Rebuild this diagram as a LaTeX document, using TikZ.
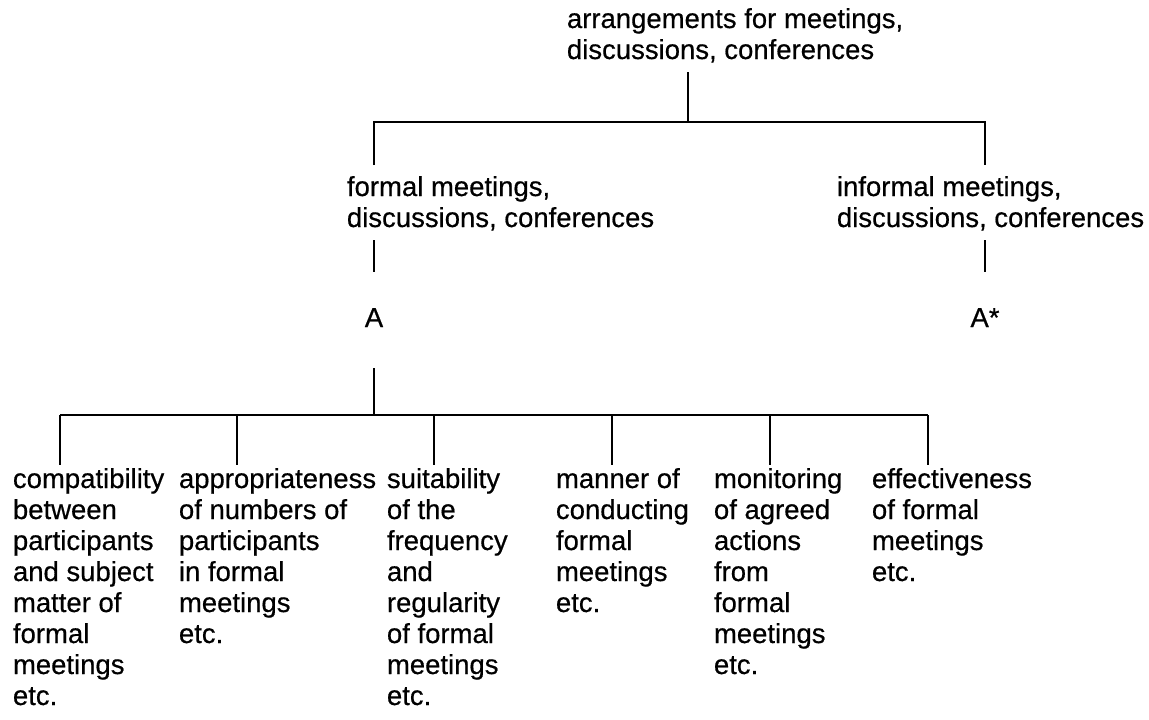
\documentclass[tikz,border=0pt]{standalone}
\usepackage{fontspec}
\setmainfont{Liberation Sans}[FakeBold=0.5]
\begin{document}
\begin{tikzpicture}[x=1pt, y=-1pt, line width=1.9pt,
  lbl/.style={inner sep=0pt, align=left, anchor=base west,
              font=\fontsize{27.5}{31}\selectfont},
  letter/.style={inner sep=0pt, anchor=base, font=\fontsize{27.5}{31}\selectfont}]
\useasboundingbox (0,0) rectangle (1149,720);
% multi-line labels are anchored at the baseline of their last line;
% the line pitch is 31

% headings
\node[lbl] (root) at (566,59) {arrangements for meetings,\\discussions, conferences};
\node[lbl] (formal) at (346,227) {formal meetings,\\discussions, conferences};
\node[lbl] (informal) at (836,227) {informal meetings,\\discussions, conferences};
\node[letter] (A) at (374,327) {A};
\node[letter] (Astar) at (985,327) {A*};

% criteria under A (first baselines at 488)
\node[lbl] (c1) at (12,705) {compatibility\\between\\participants\\and subject\\matter of\\formal\\meetings\\etc.};
\node[lbl] (c2) at (178,643) {appropriateness\\of numbers of\\participants\\in formal\\meetings\\etc.};
\node[lbl] (c3) at (386,705) {suitability\\of the\\frequency\\and\\regularity\\of formal\\meetings\\etc.};
\node[lbl] (c4) at (555,612) {manner of\\conducting\\formal\\meetings\\etc.};
\node[lbl] (c5) at (713,674) {monitoring\\of agreed\\actions\\from\\formal\\meetings\\etc.};
\node[lbl] (c6) at (871,581) {effectiveness\\of formal\\meetings\\etc.};

% bracket below the root
\coordinate (r0) at (688,72);
\coordinate (r1) at (688,122);
\coordinate (fL) at (374,122);
\coordinate (fR) at (985,122);
\coordinate (fL1) at (374,165);
\coordinate (fR1) at (985,165);
\draw (r0) -- (r1);
\draw (fL1) -- (fL) -- (fR) -- (fR1);

% links from the two headings to A and A*
\coordinate (a0) at (374,240);
\coordinate (a1) at (374,272);
\coordinate (b0) at (985,240);
\coordinate (b1) at (985,272);
\draw (a0) -- (a1);
\draw (b0) -- (b1);

% bracket below A
\coordinate (s0) at (374,368);
\coordinate (s1) at (374,415);
\draw (s0) -- (s1);
\coordinate (h1) at (60,415);
\coordinate (h6) at (928,415);
\draw (h1) -- (h6);
\foreach \x/\n in {60/1,237/2,434/3,612/4,770/5,928/6}{
  \coordinate (k\n) at (\x,415);
  \coordinate (e\n) at (\x,465);
  \draw (k\n) -- (e\n);
}
\end{tikzpicture}
\end{document}
